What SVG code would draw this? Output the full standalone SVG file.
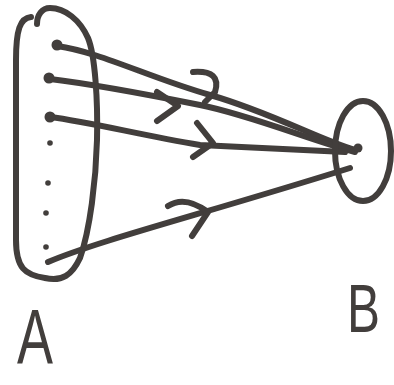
<svg xmlns="http://www.w3.org/2000/svg" width="394" height="385" viewBox="0 0 394 385">
<style>
.ink{fill:none;stroke:#423e3c;stroke-width:6;stroke-linecap:round;stroke-linejoin:round}
.dot{fill:#423e3c}
.lbl{fill:#423e3c;font-family:"Liberation Sans",Arial,sans-serif}
</style>
<rect width="394" height="385" fill="#ffffff"/>
<g id="connectors">
<path class="ink" d="M57,46 C100,52 150,78 210,95 S320,140 355,150"/>
<path class="ink" d="M193,72 Q222,70 215,92 L205,102"/>
<path class="ink" d="M50,79 C100,85 150,95 200,105 S310,140 355,152"/>
<path class="ink" d="M157,92 L178,106 L157,121"/>
<path class="ink" d="M50,117 C90,122 140,135 200,145 L345,152"/>
<path class="ink" d="M197,123 L213,143 L193,157"/>
<path class="ink" d="M48,262 C100,240 200,215 350,168"/>
<path class="ink" d="M168,206 Q185,195 208,212 L192,236"/>
</g>
<g id="nodeA">
<path class="ink" d="M31,17 C20,18 16,30 16,60 L16,240 C16,268 25,275 45,278 C62,282 72,275 80,258 C90,230 96,180 97,140 C98,100 95,55 88,38 C80,20 65,8 50,8 C42,8 37,15 37,24"/>
<circle class="dot" cx="57" cy="45" r="5.5"/>
<circle class="dot" cx="49" cy="78" r="5.5"/>
<circle class="dot" cx="50" cy="117" r="5.5"/>
<circle class="dot" cx="50" cy="143" r="2.8"/>
<circle class="dot" cx="48" cy="183" r="2.8"/>
<circle class="dot" cx="46" cy="213" r="2.8"/>
<circle class="dot" cx="46" cy="247" r="2.8"/>
<text class="lbl" x="17" y="364" font-size="78" textLength="36" lengthAdjust="spacingAndGlyphs">A</text>
</g>
<g id="nodeB">
<ellipse class="ink" cx="363" cy="151" rx="28" ry="50"/>
<circle class="dot" cx="358" cy="148" r="4.5"/>
<text class="lbl" x="347" y="332" font-size="68" textLength="33" lengthAdjust="spacingAndGlyphs">B</text>
</g>
</svg>
